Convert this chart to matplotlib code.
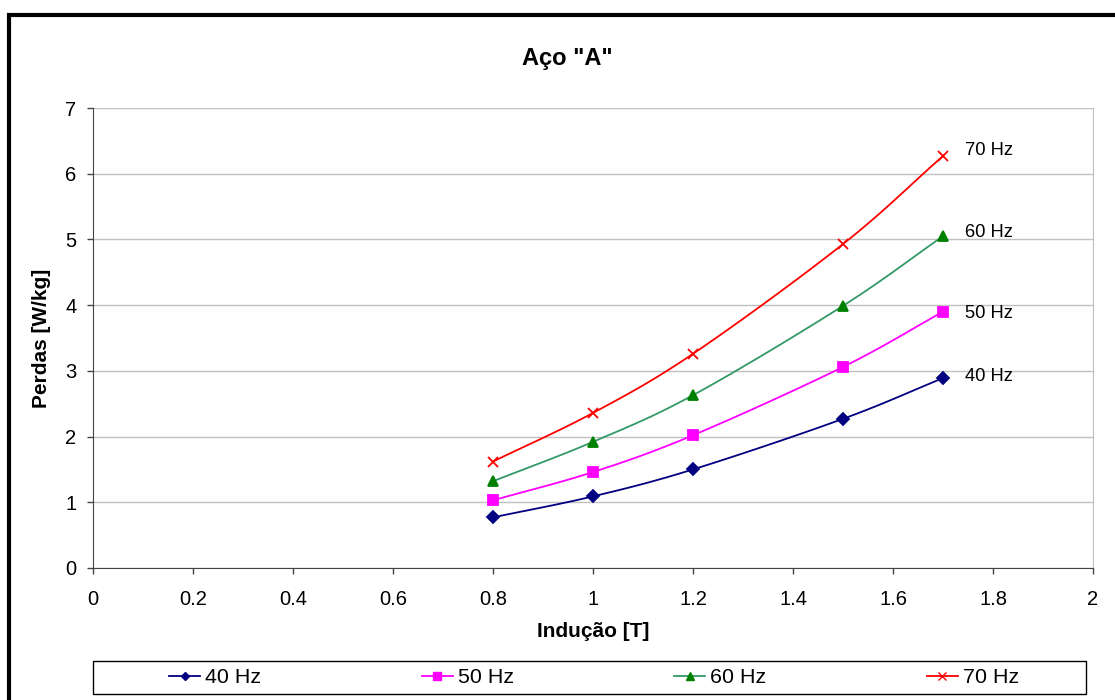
import numpy as np
import matplotlib
matplotlib.use('Agg')
import matplotlib.pyplot as plt
from matplotlib.patches import Rectangle

plt.rcParams['font.family'] = ['Liberation Sans', 'DejaVu Sans']

# data
inducao = [0.8, 1.0, 1.2, 1.5, 1.7]
perdas_40 = [0.77, 1.09, 1.50, 2.27, 2.89]
perdas_50 = [1.03, 1.46, 2.02, 3.06, 3.90]
perdas_60 = [1.32, 1.92, 2.63, 3.99, 5.05]
perdas_70 = [1.62, 2.36, 3.26, 4.93, 6.27]
labels = ['40 Hz', '50 Hz', '60 Hz', '70 Hz']
label_dy = [0.02, -0.03, 0.05, 0.09]


def smooth(x, y, n=30):
    # catmull-rom curve through the points (like excel smoothed line)
    x = np.asarray(x, float)
    y = np.asarray(y, float)
    px = np.concatenate([[2 * x[0] - x[1]], x, [2 * x[-1] - x[-2]]])
    py = np.concatenate([[2 * y[0] - y[1]], y, [2 * y[-1] - y[-2]]])
    xs, ys = [], []
    t = np.linspace(0, 1, n)
    for i in range(1, len(px) - 2):
        for p, out in ((px, xs), (py, ys)):
            p0, p1, p2, p3 = p[i - 1], p[i], p[i + 1], p[i + 2]
            out.extend(0.5 * ((2 * p1) + (-p0 + p2) * t
                              + (2 * p0 - 5 * p1 + 4 * p2 - p3) * t ** 2
                              + (-p0 + 3 * p1 - 3 * p2 + p3) * t ** 3))
    return xs, ys


fig = plt.figure(figsize=(11.15, 7), dpi=100)
ax = fig.add_axes([0.0834, 0.1886, 0.8969, 0.6571])

series = [
    (perdas_40, '#000080', '#000080', 'D', 6),
    (perdas_50, '#FF00FF', '#FF00FF', 's', 7),
    (perdas_60, '#339966', '#008000', '^', 7),
    (perdas_70, '#FF0000', '#FF0000', 'x', 7),
]
handles = []
for (vals, lc, mc, mk, ms), lab, dy in zip(series, labels, label_dy):
    sx, sy = smooth(inducao, vals)
    ax.plot(sx, sy, color=lc, lw=1.3, zorder=3)
    ax.plot(inducao, vals, ls='none', marker=mk, ms=ms, color=mc,
            mec=mc, mew=1.3, zorder=4)
    h, = ax.plot([], [], color=lc, lw=1.3, marker=mk, ms=ms - 1.5,
                 mfc=mc, mec=mc, label=lab)
    handles.append(h)
    ax.text(inducao[-1] + 0.044, vals[-1] + dy, lab, fontsize=13.2,
            va='center', ha='left')

ax.set_xlim(0, 2)
ax.set_ylim(0, 7)
ax.set_xticks(np.arange(0, 2.01, 0.2))
ax.set_xticklabels(['0', '0.2', '0.4', '0.6', '0.8', '1', '1.2', '1.4',
                    '1.6', '1.8', '2'])
ax.set_yticks(range(0, 8))
ax.tick_params(labelsize=14.5, length=4, width=1, color='#444444',
               direction='out')
ax.tick_params(axis='x', pad=12)
ax.tick_params(axis='y', pad=8)
ax.grid(axis='y', color='#c0c0c0', lw=1)
ax.set_axisbelow(True)
ax.spines['right'].set_color('#c0c0c0')
ax.spines['top'].set_visible(False)
for s in ['left', 'bottom']:
    ax.spines[s].set_color('#444444')

fig.text(0.5085, 0.917, 'Aço "A"', fontsize=17, fontweight='bold',
         ha='center', va='center')
ax.set_xlabel('Indução [T]', fontsize=15, fontweight='bold', labelpad=9)
ax.set_ylabel('Perdas [W/kg]', fontsize=15, fontweight='bold', labelpad=10)

# legend box drawn separately, entries centred inside
fig.patches.append(Rectangle((93 / 1115, 1 - 694 / 700), 993 / 1115, 33 / 700,
                             transform=fig.transFigure, fill=False,
                             lw=1, edgecolor='black'))
fig.legend(handles=handles, loc='center', ncol=4,
           bbox_to_anchor=(0.533, 0.0321), fontsize=15.4, frameon=False,
           handlelength=1.45, handletextpad=0.23, columnspacing=7.5,
           borderpad=0)

# outer chart border
fig.patches.append(Rectangle((0.0085, -0.05), 1.2, 1.029,
                             transform=fig.transFigure, fill=False,
                             lw=3, edgecolor='black'))

fig.savefig('out.png', dpi=100)
